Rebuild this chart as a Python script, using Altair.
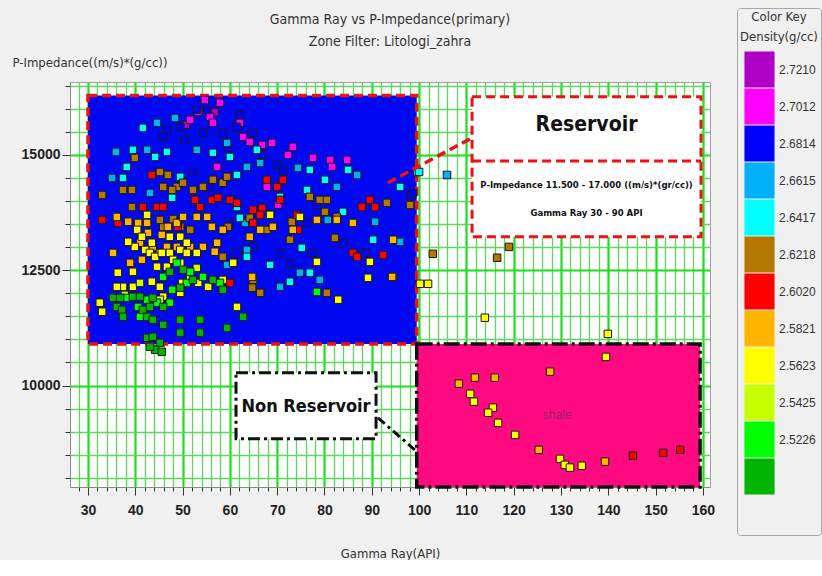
import altair as alt
import pandas as pd

# ---------------- data ----------------
CLASS_LABELS = ["2.7210", "2.7012", "2.6814", "2.6615", "2.6417", "2.6218",
                "2.6020", "2.5821", "2.5623", "2.5425", "2.5226", "<2.5226", " "]
CLASS_COLORS = ["#b000c8", "#ff00ff", "#0000ff", "#00b0f8", "#00ffff", "#b47800",
                "#ff0000", "#ffb400", "#ffff00", "#c8ff00", "#00ff00", "#00b400", "transparent"]

# purple  (> 2.7210)
pu_gr = [56.8, 50.7]
pu_pi = [15930, 15650]
# magenta (2.7012 - 2.7210)
ma_gr = [51.6, 55.8, 56.4, 62.1, 62.8, 64.2, 66.8, 68.9, 73.3, 72.3, 77.6, 81.2,
         84.8, 81.6, 70.2, 67.8, 57.3, 57.9, 54.7, 53.3]
ma_pi = [15760, 15825, 15695, 15695, 15390, 15280, 15215, 15260, 15175, 15000, 14935, 14890,
         14890, 14740, 13915, 14305, 14740, 16130, 16190, 15930]
# blue (2.6814 - 2.7012)
bl_gr = [46.7, 45.9, 49.5, 53.0, 55.2, 54.3, 61.5, 58.5, 62.1, 64.9, 70.0, 71.2, 60.0,
         61.5, 64.9, 70.6, 72.7, 77.6, 83.9, 88.6, 78.4, 76.3, 98.1, 98.7, 52.2, 55.8,
         50.5, 59.6, 66.8]
bl_pi = [15540, 15390, 15605, 15975, 15975, 15475, 15605, 15475, 15870, 15475, 14785, 14675, 13525,
         12875, 13005, 12875, 12660, 12875, 13095, 12875, 13915, 13525, 14090, 14175, 14630, 14305,
         15325, 15150, 15000]
# sky blue (2.6615 - 2.6814)
sk_gr = [35.9, 42.5, 35.1, 43.1, 53.0, 59.4, 63.6, 66.4, 63.2, 74.4, 82.6, 86.9, 80.7,
         90.7, 96.0, 70.6, 74.8, 79.0, 63.6, 59.4, 105.9, 44.6, 48.4]
sk_pi = [15065, 15110, 14500, 14175, 15110, 15260, 14740, 14825, 13525, 14720, 14305, 14565, 13590,
         13550, 13115, 12140, 12445, 12290, 12940, 12615, 14565, 15695, 15800]
# cyan (2.6417 - 2.6615)
cy_gr = [39.5, 44.2, 46.7, 38.2, 37.4, 47.8, 49.5, 56.4, 60.0, 61.5, 65.7, 61.5, 62.1,
         70.6, 76.9, 80.1, 85.0, 76.3, 83.9, 90.3, 96.0, 99.6, 68.5, 72.7, 76.9, 75.2,
         63.6, 100.0, 41.6]
cy_pi = [15110, 14955, 15065, 14740, 14500, 14070, 14525, 15045, 14955, 14565, 15110, 13870, 13635,
         14090, 14675, 14460, 14675, 14240, 13765, 13160, 14305, 14630, 12615, 12250, 12445, 12985,
         12790, 14630, 15585]
# brown (2.6218 - 2.6417)
br_gr = [39.9, 45.2, 46.9, 48.8, 50.1, 52.2, 54.3, 56.4, 58.5, 59.4, 37.4, 39.3, 33.0,
         39.3, 45.9, 47.8, 45.9, 51.6, 59.6, 64.2, 67.8, 73.1, 72.7, 76.9, 79.0, 80.5,
         80.1, 82.6, 82.2, 94.5, 98.1, 64.9, 66.4, 64.7, 58.5, 80.5, 93.2, 45.2, 48.0,
         49.5, 102.9, 116.5, 119.0]
br_pi = [14935, 14630, 14565, 14305, 14395, 14240, 14305, 14460, 14395, 14525, 14240, 14240, 14130,
         13870, 14305, 14240, 13440, 13375, 13440, 13635, 13375, 13550, 13160, 14090, 14025, 14025,
         13765, 13655, 13200, 12355, 13915, 12290, 12010, 12120, 12790, 12010, 13960, 13590, 13610,
         13440, 12855, 12770, 13005]
# red (2.6020 - 2.6218)
re_gr = [43.5, 33.0, 36.3, 41.6, 44.6, 52.6, 53.7, 56.2, 57.5, 60.0, 61.5, 64.9, 66.8,
         67.8, 70.0, 71.2, 70.6, 64.9, 66.4, 74.2, 74.4, 86.0, 86.9, 92.4, 87.9, 89.6,
         90.7, 60.0, 49.0, 45.9, 145.2, 151.6, 155.2]
re_pi = [14565, 13590, 13525, 13870, 13870, 14025, 13870, 14025, 14070, 14025, 13960, 13810, 13850,
         14460, 14305, 14460, 14025, 13525, 13700, 13700, 13375, 12875, 12790, 12830, 13870, 14025,
         13870, 12225, 13440, 13870, 8480, 8540, 8605]
# orange (2.5821 - 2.6020)
or_gr = [36.1, 38.5, 40.6, 42.5, 46.9, 48.8, 50.1, 53.0, 55.2, 56.2, 58.5, 57.3, 54.3,
         51.6, 48.8, 46.7, 43.7, 41.0, 38.9, 41.4, 45.2, 35.3, 42.7, 45.6, 56.8, 64.2,
         66.4, 64.7, 69.1, 78.4, 82.6, 86.0, 73.3, 94.5, 94.3,
         108.4, 111.8, 116.0, 125.3, 139.3, 127.7]
or_pi = [13655, 13550, 13525, 13525, 13440, 13525, 13655, 13655, 13655, 13440, 13375, 13095, 13005,
         13005, 13005, 13005, 13005, 13095, 12660, 12725, 12875, 12875, 13310, 13265, 12900, 13225,
         13375, 12355, 13440, 13590, 13590, 13525, 13375, 13160, 12355,
         10040, 10170, 10170, 8605, 8350, 10300]
# yellow (2.5623 - 2.5821)
ye_gr = [42.5, 40.4, 41.4, 43.5, 39.9, 42.1, 43.1, 44.2, 45.6, 47.3, 49.5, 50.9, 53.0,
         47.3, 49.5, 50.9, 44.6, 46.7, 48.0, 49.5, 39.5, 36.3, 39.5, 37.4, 36.1, 43.5,
         45.2, 49.9, 51.6, 53.3, 55.4, 58.5, 60.7, 61.5, 45.9, 49.5, 32.5, 33.0, 68.5,
         74.8, 78.4, 89.6, 89.2, 82.9, 38.5, 100.2, 101.9, 113.9, 139.9, 139.5,
         110.8, 111.6, 115.6, 114.6, 116.7, 120.3, 129.8, 130.8, 131.9, 134.4]
ye_pi = [13700, 13375, 13225, 13095, 13005, 12940, 12875, 12790, 12875, 12875, 12940, 12875, 12875,
         13225, 13225, 13095, 12575, 12575, 12725, 12660, 12465, 12445, 12140, 12140, 12140, 12250,
         12140, 12225, 12355, 12225, 12140, 12290, 12660, 11705, 11925, 12010, 11795, 11600, 13700,
         13655, 12680, 12680, 12335, 11860, 13115, 12205, 12205, 11470, 11120, 10620,
         9820, 9650, 9520, 9410, 9190, 8930, 8410, 8280, 8220, 8260]
# yellow-green (2.5425 - 2.5623)
yg_gr = [37.8, 45.2, 53.0, 41.0]
yg_pi = [11965, 11860, 12550, 12225]
# green (2.5226 - 2.5425)
gr_gr = [38.2, 42.5, 40.6, 44.6, 47.3, 47.8, 50.9, 54.3, 57.9, 45.9, 48.8, 51.6, 41.0, 78.4]
gr_pi = [11900, 11860, 11705, 11795, 11795, 12075, 12225, 12355, 12225, 12355, 12660, 12465, 11490, 12030]
# dark green (< 2.5226)
dg_gr = [35.3, 36.8, 39.5, 41.0, 43.7, 36.1, 37.2, 41.6, 43.1, 45.9, 49.5, 52.2, 56.4,
         58.5, 47.3, 50.1, 42.5, 43.7, 37.4, 49.5, 53.7, 59.4, 62.8, 53.7, 45.9, 42.5,
         43.7, 45.2, 49.5, 44.2, 45.6, 43.1]
dg_pi = [11900, 11900, 11925, 11925, 11900, 11705, 11640, 11640, 11705, 11705, 12120, 12290, 12290,
         12075, 12465, 12510, 11490, 11425, 11490, 11425, 11425, 11250, 11490, 11145, 11315, 11035,
         11055, 10925, 11145, 10775, 10730, 10840]

groups = [
    ("2.7210", pu_gr, pu_pi), ("2.7012", ma_gr, ma_pi), ("2.6814", bl_gr, bl_pi),
    ("2.6615", sk_gr, sk_pi), ("2.6417", cy_gr, cy_pi), ("2.6218", br_gr, br_pi),
    ("2.6020", re_gr, re_pi), ("2.5821", or_gr, or_pi), ("2.5623", ye_gr, ye_pi),
    ("2.5425", yg_gr, yg_pi), ("2.5226", gr_gr, gr_pi), ("<2.5226", dg_gr, dg_pi),
]
rows = []
for lab, g, p in groups:
    for a, b in zip(g, p):
        rows.append({"gr": a, "pi": b, "cls": lab})
pts = pd.DataFrame(rows)

# zones and annotation boxes (data units)
res_zone = pd.DataFrame({"x": [30.0], "x2": [99.5], "y": [10900], "y2": [16290]})
non_zone = pd.DataFrame({"x": [99.5], "x2": [159.4], "y": [7800], "y2": [10900]})
res_box = pd.DataFrame({"x": [111.2], "x2": [159.6], "y": [13225], "y2": [16260]})
res_div = pd.DataFrame({"x": [111.2], "x2": [159.6], "y": [14870]})
non_box = pd.DataFrame({"x": [61.3], "x2": [90.9], "y": [8845], "y2": [10275]})
red_link = pd.DataFrame({"x": [93.4], "x2": [111.2], "y": [14395], "y2": [15370]})
blk_link = pd.DataFrame({"x": [91.3], "x2": [99.1], "y": [9300], "y2": [8605]})

res_txt = pd.DataFrame({"x": [135.4], "y": [15650], "t": ["Reservoir"]})
non_txt = pd.DataFrame({"x": [76.1], "y": [9540], "t": ["Non Reservoir"]})
small_txt = pd.DataFrame({"x": [135.4, 135.4], "y": [14350, 13745],
                          "t": ["P-Impedance 11.500 - 17.000 ((m/s)*(gr/cc))", "Gamma Ray 30 - 90 API"]})
shale_txt = pd.DataFrame({"x": [129.2], "y": [9365], "t": ["shale"]})

X_DOMAIN = [26.2, 161.5]
Y_DOMAIN = [7800, 16580]
X_TICKS = list(range(28, 162, 2))
Y_TICKS = list(range(8000, 16501, 500))

NARROW = "Liberation Sans Narrow, Arial Narrow, DejaVu Sans Condensed, sans-serif"
REG = "Liberation Sans, Arial, sans-serif"

# ---------------- chart ----------------
xs = alt.Scale(domain=X_DOMAIN, nice=False, zero=False)
ys = alt.Scale(domain=Y_DOMAIN, nice=False, zero=False)

x_axis = alt.Axis(
    values=X_TICKS, labelExpr="datum.value % 10 == 0 ? datum.label : ''",
    labelOverlap=False, labelFlush=False, labelFont=REG, labelFontSize=14,
    labelFontWeight="bold", labelColor="#222", labelPadding=8,
    grid=True,
    gridColor={"condition": {"test": "datum.value % 10 === 0", "value": "#19e019"}, "value": "#5cd85c"},
    gridWidth={"condition": {"test": "datum.value % 10 === 0", "value": 2.2}, "value": 1.3},
    tickSize={"condition": {"test": "datum.value % 10 === 0", "value": 8}, "value": 4},
    tickColor="#333", domainColor="#888",
    title="Gamma Ray(API)", titleFont=NARROW, titleFontSize=13, titleFontWeight="normal",
    titleColor="#333", titleY=66, titleBaseline="middle",
)
y_axis = alt.Axis(
    values=Y_TICKS, labelExpr="datum.value % 2500 == 0 ? datum.label : ''",
    format="d", labelOverlap=False, labelFlush=False, labelFont=REG, labelFontSize=14,
    labelFontWeight="bold", labelColor="#222", labelPadding=2,
    grid=True,
    gridColor={"condition": {"test": "datum.value % 2500 === 0", "value": "#19e019"}, "value": "#5cd85c"},
    gridWidth={"condition": {"test": "datum.value % 2500 === 0", "value": 2.2}, "value": 1.3},
    tickSize={"condition": {"test": "datum.value % 2500 === 0", "value": 8}, "value": 5},
    tickColor="#333", domainColor="#888",
    title="P-Impedance((m/s)*(g/cc))", titleFont=NARROW, titleFontSize=13, titleFontWeight="normal",
    titleColor="#333", titleAngle=0, titleAlign="left", titleBaseline="middle", titleX=-58, titleY=-20,
)


def rect_layer(df, **kw):
    return alt.Chart(df).mark_rect(**kw).encode(
        x=alt.X("x:Q", scale=xs, axis=x_axis), x2="x2", y=alt.Y("y:Q", scale=ys, axis=y_axis), y2="y2")


res_fill = rect_layer(res_zone, fill="#0008f2")
non_fill = rect_layer(non_zone, fill="#ff0a80")
res_border = rect_layer(res_zone, fillOpacity=0, stroke="#ee1111", strokeWidth=3.5, strokeDash=[9, 5])
non_border = rect_layer(non_zone, fillOpacity=0, stroke="#111111", strokeWidth=3.5, strokeDash=[16, 4, 3, 4])

points = alt.Chart(pts).mark_square(size=56, filled=True, stroke="#1a1a1a", strokeWidth=1, opacity=1).encode(
    x=alt.X("gr:Q", scale=xs, axis=x_axis),
    y=alt.Y("pi:Q", scale=ys, axis=y_axis),
    fill=alt.Fill("cls:N", scale=alt.Scale(domain=CLASS_LABELS, range=CLASS_COLORS),
                  legend=alt.Legend(
                      title=["Color Key", "Density(g/cc)"], orient="none", legendX=667, legendY=-74,
                      titleFont=NARROW, titleFontSize=13, titleFontWeight="normal", titleColor="#333",
                      titleAnchor="middle", titleAlign="center", titleLineHeight=20, titlePadding=8,
                      labelFont=REG, labelFontSize=12, labelColor="#333",
                      labelExpr="(datum.label == '<2.5226' || datum.label == ' ') ? '' : datum.label",
                      labelOffset=2,
                      symbolType="M-0.87,-1.04H0.87V1.04H-0.87Z", symbolSize=1195, symbolStrokeWidth=0,
                      symbolOpacity=1, rowPadding=0, padding=3, strokeColor="#a8a8a8",
                      cornerRadius=3, labelLimit=60)),
)

res_label_box = rect_layer(res_box, fill="white", stroke="#ee1111", strokeWidth=3, strokeDash=[9, 5])
res_divider = alt.Chart(res_div).mark_rule(stroke="#ee1111", strokeWidth=3, strokeDash=[9, 5]).encode(
    x=alt.X("x:Q", scale=xs, axis=x_axis), x2="x2", y=alt.Y("y:Q", scale=ys, axis=y_axis))
non_label_box = rect_layer(non_box, fill="white", stroke="#111111", strokeWidth=3, strokeDash=[12, 4, 3, 4])


def link_layer(df, **kw):
    return alt.Chart(df).mark_rule(**kw).encode(
        x=alt.X("x:Q", scale=xs, axis=x_axis), x2="x2", y=alt.Y("y:Q", scale=ys, axis=y_axis), y2="y2")


red_conn = link_layer(red_link, stroke="#ee1111", strokeWidth=3.5, strokeDash=[9, 5])
blk_conn = link_layer(blk_link, stroke="#111111", strokeWidth=3, strokeDash=[9, 4, 3, 4])


def text_layer(df, **kw):
    return alt.Chart(df).mark_text(**kw).encode(
        x=alt.X("x:Q", scale=xs, axis=x_axis), y=alt.Y("y:Q", scale=ys, axis=y_axis), text="t:N")


res_text = text_layer(res_txt, font=NARROW, fontSize=21, fontWeight="bold", color="#111")
non_text = text_layer(non_txt, font=NARROW, fontSize=18, fontWeight="bold", color="#111")
small_text = text_layer(small_txt, font=NARROW, fontSize=9.5, fontWeight="bold", color="#111")
shale_text = text_layer(shale_txt, font=REG, fontSize=12, color="#9a2060")

chart = alt.layer(
    res_fill, non_fill, res_border, non_border, points,
    res_label_box, res_divider, non_label_box, red_conn, blk_conn,
    res_text, non_text, small_text, shale_text,
).properties(
    width=640, height=405,
    title=alt.TitleParams(
        text=["Gamma Ray vs P-Impedance(primary)", "Zone Filter: Litologi_zahra"],
        font=NARROW, fontSize=14, fontWeight="normal", color="#333", lineHeight=22,
        anchor="middle", offset=-41),
    padding={"left": 12, "top": 7, "right": 0, "bottom": 0},
).configure(background="#f0f0f0").configure_view(fill="white", stroke="#a0a0a0")

chart.save("out.html", embed_options={"renderer": "svg", "actions": False})
